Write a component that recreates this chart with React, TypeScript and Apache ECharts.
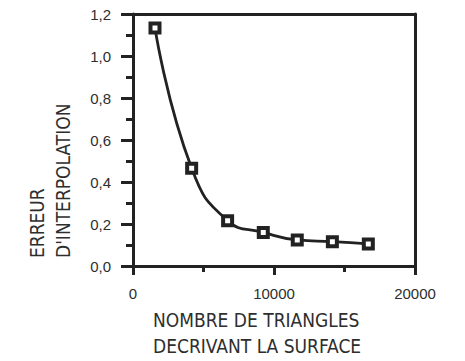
import React, { useEffect, useRef } from "react";
import * as echarts from "echarts";

const triangles = [1560, 4160, 6710, 9240, 11650, 14140, 16690];
const errors = [1.133, 0.465, 0.216, 0.16, 0.124, 0.116, 0.105];
const xTickLabels = ["0", "10000", "20000"];
const yTickLabels = ["0,0", "0,2", "0,4", "0,6", "0,8", "1,0", "1,2"];
const yTitleLines = ["ERREUR", "D'INTERPOLATION"];
const xTitleLines = ["NOMBRE DE TRIANGLES", "DECRIVANT LA SURFACE"];

const INK = "#222222";
const TXT = "#2e2e2e";
const FONT = "'Liberation Sans Narrow', 'DejaVu Sans Condensed', 'Liberation Sans', sans-serif";
const TICKFONT = "'Liberation Sans', Arial, sans-serif";

export default function App() {
  const ref = useRef<HTMLDivElement>(null);
  useEffect(() => {
    if (!ref.current) return;
    const chart = echarts.init(ref.current, null, { renderer: "svg" });
    chart.setOption({
      animation: false,
      backgroundColor: "#ffffff",
      grid: { left: 133, top: 14, width: 282, height: 252, containLabel: false },
      xAxis: [
        {
          type: "value",
          position: "bottom",
          min: 0,
          max: 20000,
          interval: 10000,
          axisLine: { show: true, onZero: false, lineStyle: { color: INK, width: 3 } },
          axisTick: { show: true, inside: false, length: 9, lineStyle: { color: INK, width: 3 } },
          minorTick: { show: true, splitNumber: 2, length: 6, lineStyle: { color: INK, width: 3 } },
          splitLine: { show: false },
          axisLabel: {
            margin: 20,
            color: TXT,
            fontSize: 15,
            fontFamily: TICKFONT,
            formatter: (v: number) => xTickLabels[Math.round(v / 10000)] ?? "",
          },
        },
        {
          type: "value",
          position: "top",
          min: 0,
          max: 20000,
          axisLine: { show: true, onZero: false, lineStyle: { color: INK, width: 3 } },
          axisTick: { show: false },
          axisLabel: { show: false },
          splitLine: { show: false },
        },
      ],
      yAxis: [
        {
          type: "value",
          position: "left",
          min: 0,
          max: 1.2,
          interval: 0.2,
          axisLine: { show: true, onZero: false, lineStyle: { color: INK, width: 3 } },
          axisTick: { show: true, inside: false, length: 12, lineStyle: { color: INK, width: 3 } },
          minorTick: { show: true, splitNumber: 2, length: 7, lineStyle: { color: INK, width: 3 } },
          splitLine: { show: false },
          axisLabel: {
            margin: 22,
            color: TXT,
            fontSize: 15,
            fontFamily: TICKFONT,
            formatter: (v: number) => yTickLabels[Math.round(v / 0.2)] ?? "",
          },
        },
        {
          type: "value",
          position: "right",
          min: 0,
          max: 1.2,
          axisLine: { show: true, onZero: false, lineStyle: { color: INK, width: 3 } },
          axisTick: { show: false },
          axisLabel: { show: false },
          splitLine: { show: false },
        },
      ],
      graphic: [
        {
          type: "text",
          x: 37,
          y: 258,
          rotation: Math.PI / 2,
          style: {
            text: yTitleLines[0],
            fill: TXT,
            font: `19px ${FONT}`,
            textAlign: "left",
            textVerticalAlign: "middle",
          },
        },
        {
          type: "text",
          x: 63,
          y: 258,
          rotation: Math.PI / 2,
          style: {
            text: yTitleLines[1],
            fill: TXT,
            font: `19px ${FONT}`,
            textAlign: "left",
            textVerticalAlign: "middle",
          },
        },
        {
          type: "text",
          x: 153,
          y: 320,
          style: {
            text: xTitleLines[0],
            fill: TXT,
            font: `19px ${FONT}`,
            textAlign: "left",
            textVerticalAlign: "middle",
          },
        },
        {
          type: "text",
          x: 153,
          y: 346,
          style: {
            text: xTitleLines[1],
            fill: TXT,
            font: `19px ${FONT}`,
            textAlign: "left",
            textVerticalAlign: "middle",
          },
        },
      ],
      series: [
        {
          type: "line",
          xAxisIndex: 0,
          yAxisIndex: 0,
          data: triangles.map((x, i) => [x, errors[i]]),
          smooth: 0.5,
          symbol: "rect",
          symbolSize: 9,
          showSymbol: true,
          lineStyle: { color: INK, width: 2.8 },
          itemStyle: { color: "#ffffff", borderColor: INK, borderWidth: 4 },
          z: 5,
        },
      ],
    });
    return () => chart.dispose();
  }, []);
  return (
    <div
      ref={ref}
      style={{ position: "fixed", left: 0, top: 0, width: 465, height: 361 }}
    />
  );
}
